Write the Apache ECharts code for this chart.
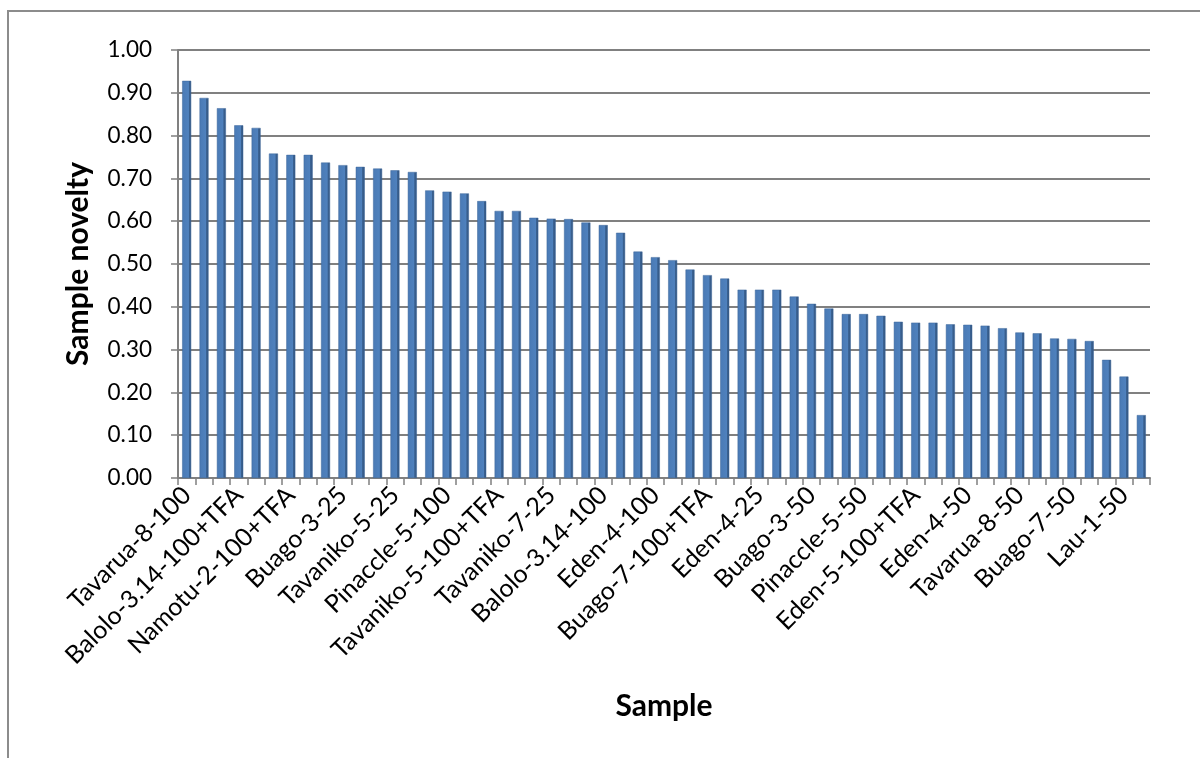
<!DOCTYPE html>
<html>
<head>
<meta charset="utf-8">
<script src="https://cdn.jsdelivr.net/npm/echarts@6/dist/echarts.min.js"></script>
<style>
html,body{margin:0;padding:0;background:#fff;}
#chart{width:1200px;height:758px;}
</style>
</head>
<body>
<div id="chart"></div>
<script>
// Category labels (only every third label is printed in the original; others are unreadable, kept blank)
const categories = [
  "Tavarua-8-100", "", "",
  "Balolo-3.14-100+TFA", "", "",
  "Namotu-2-100+TFA", "", "",
  "Buago-3-25", "", "",
  "Tavaniko-5-25", "", "",
  "Pinaccle-5-100", "", "",
  "Tavaniko-5-100+TFA", "", "",
  "Tavaniko-7-25", "", "",
  "Balolo-3.14-100", "", "",
  "Eden-4-100", "", "",
  "Buago-7-100+TFA", "", "",
  "Eden-4-25", "", "",
  "Buago-3-50", "", "",
  "Pinaccle-5-50", "", "",
  "Eden-5-100+TFA", "", "",
  "Eden-4-50", "", "",
  "Tavarua-8-50", "", "",
  "Buago-7-50", "", "",
  "Lau-1-50", ""
];
const noveltyValues = [
  0.928, 0.888, 0.864, 0.824, 0.818, 0.758, 0.755, 0.755, 0.737, 0.731,
  0.727, 0.723, 0.719, 0.715, 0.672, 0.669, 0.665, 0.647, 0.624, 0.624,
  0.608, 0.606, 0.605, 0.597, 0.591, 0.573, 0.529, 0.516, 0.509, 0.487,
  0.474, 0.466, 0.440, 0.440, 0.440, 0.424, 0.407, 0.396, 0.383, 0.383,
  0.379, 0.365, 0.363, 0.363, 0.359, 0.358, 0.356, 0.350, 0.340, 0.338,
  0.326, 0.325, 0.320, 0.276, 0.237, 0.147
];
const yTicks = { min: 0, max: 1, interval: 0.1 };
const xAxisTitle = "Sample";
const yAxisTitle = "Sample novelty";

const chart = echarts.init(document.getElementById('chart'), null, { renderer: 'canvas' });
const font = 'Lato, "Open Sans", sans-serif';
const axisGrey = '#808080';
chart.setOption({
  animation: false,
  backgroundColor: '#ffffff',
  graphic: [{
    type: 'rect',
    shape: { x: 8, y: 11, width: 1400, height: 1000 },
    style: { fill: 'none', stroke: '#8c8c8c', lineWidth: 2 },
    silent: true,
    z: -10
  }],
  grid: { left: 178, right: 50, top: 50, bottom: 280, containLabel: false },
  xAxis: {
    type: 'category',
    data: categories,
    name: xAxisTitle,
    nameLocation: 'middle',
    nameGap: 213,
    nameTextStyle: { fontFamily: font, fontSize: 30, fontWeight: 'bold', color: '#000' },
    axisLine: { show: true, lineStyle: { color: axisGrey, width: 2 } },
    axisTick: { show: true, alignWithLabel: false, interval: 0, length: 7, lineStyle: { color: axisGrey, width: 1.5 } },
    axisLabel: {
      interval: 0,
      rotate: 45,
      margin: 13,
      fontFamily: font,
      fontSize: 25,
      color: '#000'
    },
    splitLine: { show: false }
  },
  yAxis: {
    type: 'value',
    min: yTicks.min,
    max: yTicks.max,
    interval: yTicks.interval,
    name: yAxisTitle,
    nameLocation: 'middle',
    nameGap: 85,
    nameRotate: 90,
    nameTextStyle: { fontFamily: font, fontSize: 30, fontWeight: 'bold', color: '#000' },
    axisLine: { show: true, lineStyle: { color: axisGrey, width: 2 } },
    axisTick: { show: true, inside: false, length: 7, lineStyle: { color: axisGrey, width: 1.5 } },
    axisLabel: {
      margin: 26,
      fontFamily: font,
      fontSize: 22.5,
      color: '#000',
      formatter: v => v.toFixed(2)
    },
    splitLine: { show: true, lineStyle: { color: axisGrey, width: 2 } }
  },
  series: [{
    type: 'bar',
    data: noveltyValues,
    barWidth: 9,
    itemStyle: {
      color: new echarts.graphic.LinearGradient(0, 0, 1, 0, [
        { offset: 0, color: '#4a7ab5' },
        { offset: 0.7, color: '#4f81bd' },
        { offset: 0.75, color: '#3b6394' },
        { offset: 1, color: '#32547e' }
      ]),
      borderColor: '#3d669a',
      borderWidth: 0.5
    }
  }]
});
</script>
</body>
</html>
